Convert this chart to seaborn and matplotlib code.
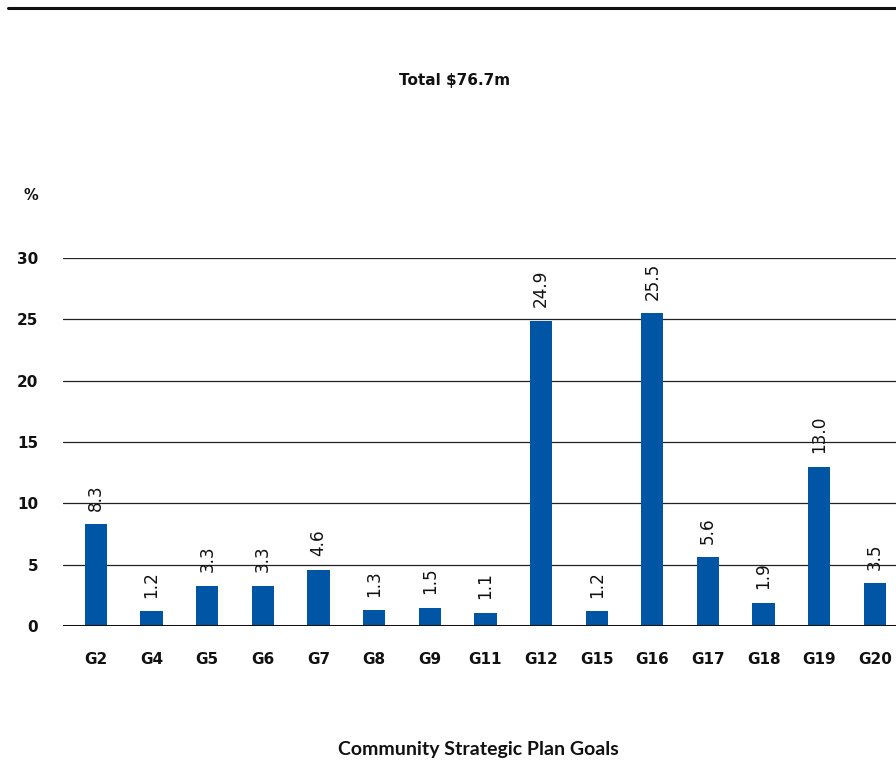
import matplotlib
matplotlib.use("Agg")
import matplotlib.pyplot as plt
from matplotlib.lines import Line2D
import seaborn as sns
import pandas as pd

goals = ["G2", "G4", "G5", "G6", "G7", "G8", "G9", "G11", "G12",
         "G15", "G16", "G17", "G18", "G19", "G20"]
shares = [8.3, 1.2, 3.3, 3.3, 4.6, 1.3, 1.5, 1.1, 24.9,
          1.2, 25.5, 5.6, 1.9, 13.0, 3.5]
y_ticks = [0, 5, 10, 15, 20, 25, 30]

BLUE = "#0055a4"
INK = "#111111"

sns.set_theme(style="white")
plt.rcParams["font.family"] = ["DejaVu Sans"]

df = pd.DataFrame({"goal": goals, "share": shares})

W, H = 896, 763
fig = plt.figure(figsize=(W / 100, H / 100), dpi=100)
ax = fig.add_axes([63 / W, (H - 626) / H, 0.9427, (626 - 258) / H])

sns.barplot(data=df, x="goal", y="share", color=BLUE, width=0.4,
            saturation=1, linewidth=0, ax=ax, zorder=3)

ax.set_ylim(0, 30)
ax.set_xlim(-0.593, 14.59)
ax.set_yticks(y_ticks)
for t in y_ticks:
    if t == 0:
        ax.axhline(t, color=INK, lw=2.2, zorder=4)
    else:
        ax.axhline(t, color="#222222", lw=0.9, zorder=1)

for s in ax.spines.values():
    s.set_visible(False)

ax.tick_params(axis="both", length=0)
ax.tick_params(axis="y", pad=18)
ax.tick_params(axis="x", pad=19)
for lab in ax.get_yticklabels() + ax.get_xticklabels():
    lab.set_fontsize(11)
    lab.set_fontweight("bold")
    lab.set_color(INK)

ax.set_xlabel("")
ax.set_ylabel("")

for i, v in enumerate(shares):
    ax.annotate(f"{v:.1f}", (i, v), xytext=(0, 9.5), textcoords="offset points",
                rotation=90, ha="center", va="bottom", fontsize=12.2,
                color=INK, clip_on=False)

fig.add_artist(Line2D([8 / W, 1.0], [1 - 8 / H, 1 - 8 / H], color=INK, lw=2.2))
fig.text(455 / W, 1 - 80 / H, "Total $76.7m", ha="center", va="center",
         fontsize=11, fontweight="bold",
         family=["Liberation Sans Narrow", "DejaVu Sans"], color=INK)
fig.text(31 / W, 1 - 195 / H, "%", ha="center", va="center", fontsize=10.5,
         fontweight="bold", color=INK)
fig.text(478 / W, 1 - 750 / H, "Community Strategic Plan Goals", ha="center",
         va="center", fontsize=14, fontweight="bold",
         family=["Lato", "DejaVu Sans"], color=INK)

fig.savefig("out.png", dpi=100)
